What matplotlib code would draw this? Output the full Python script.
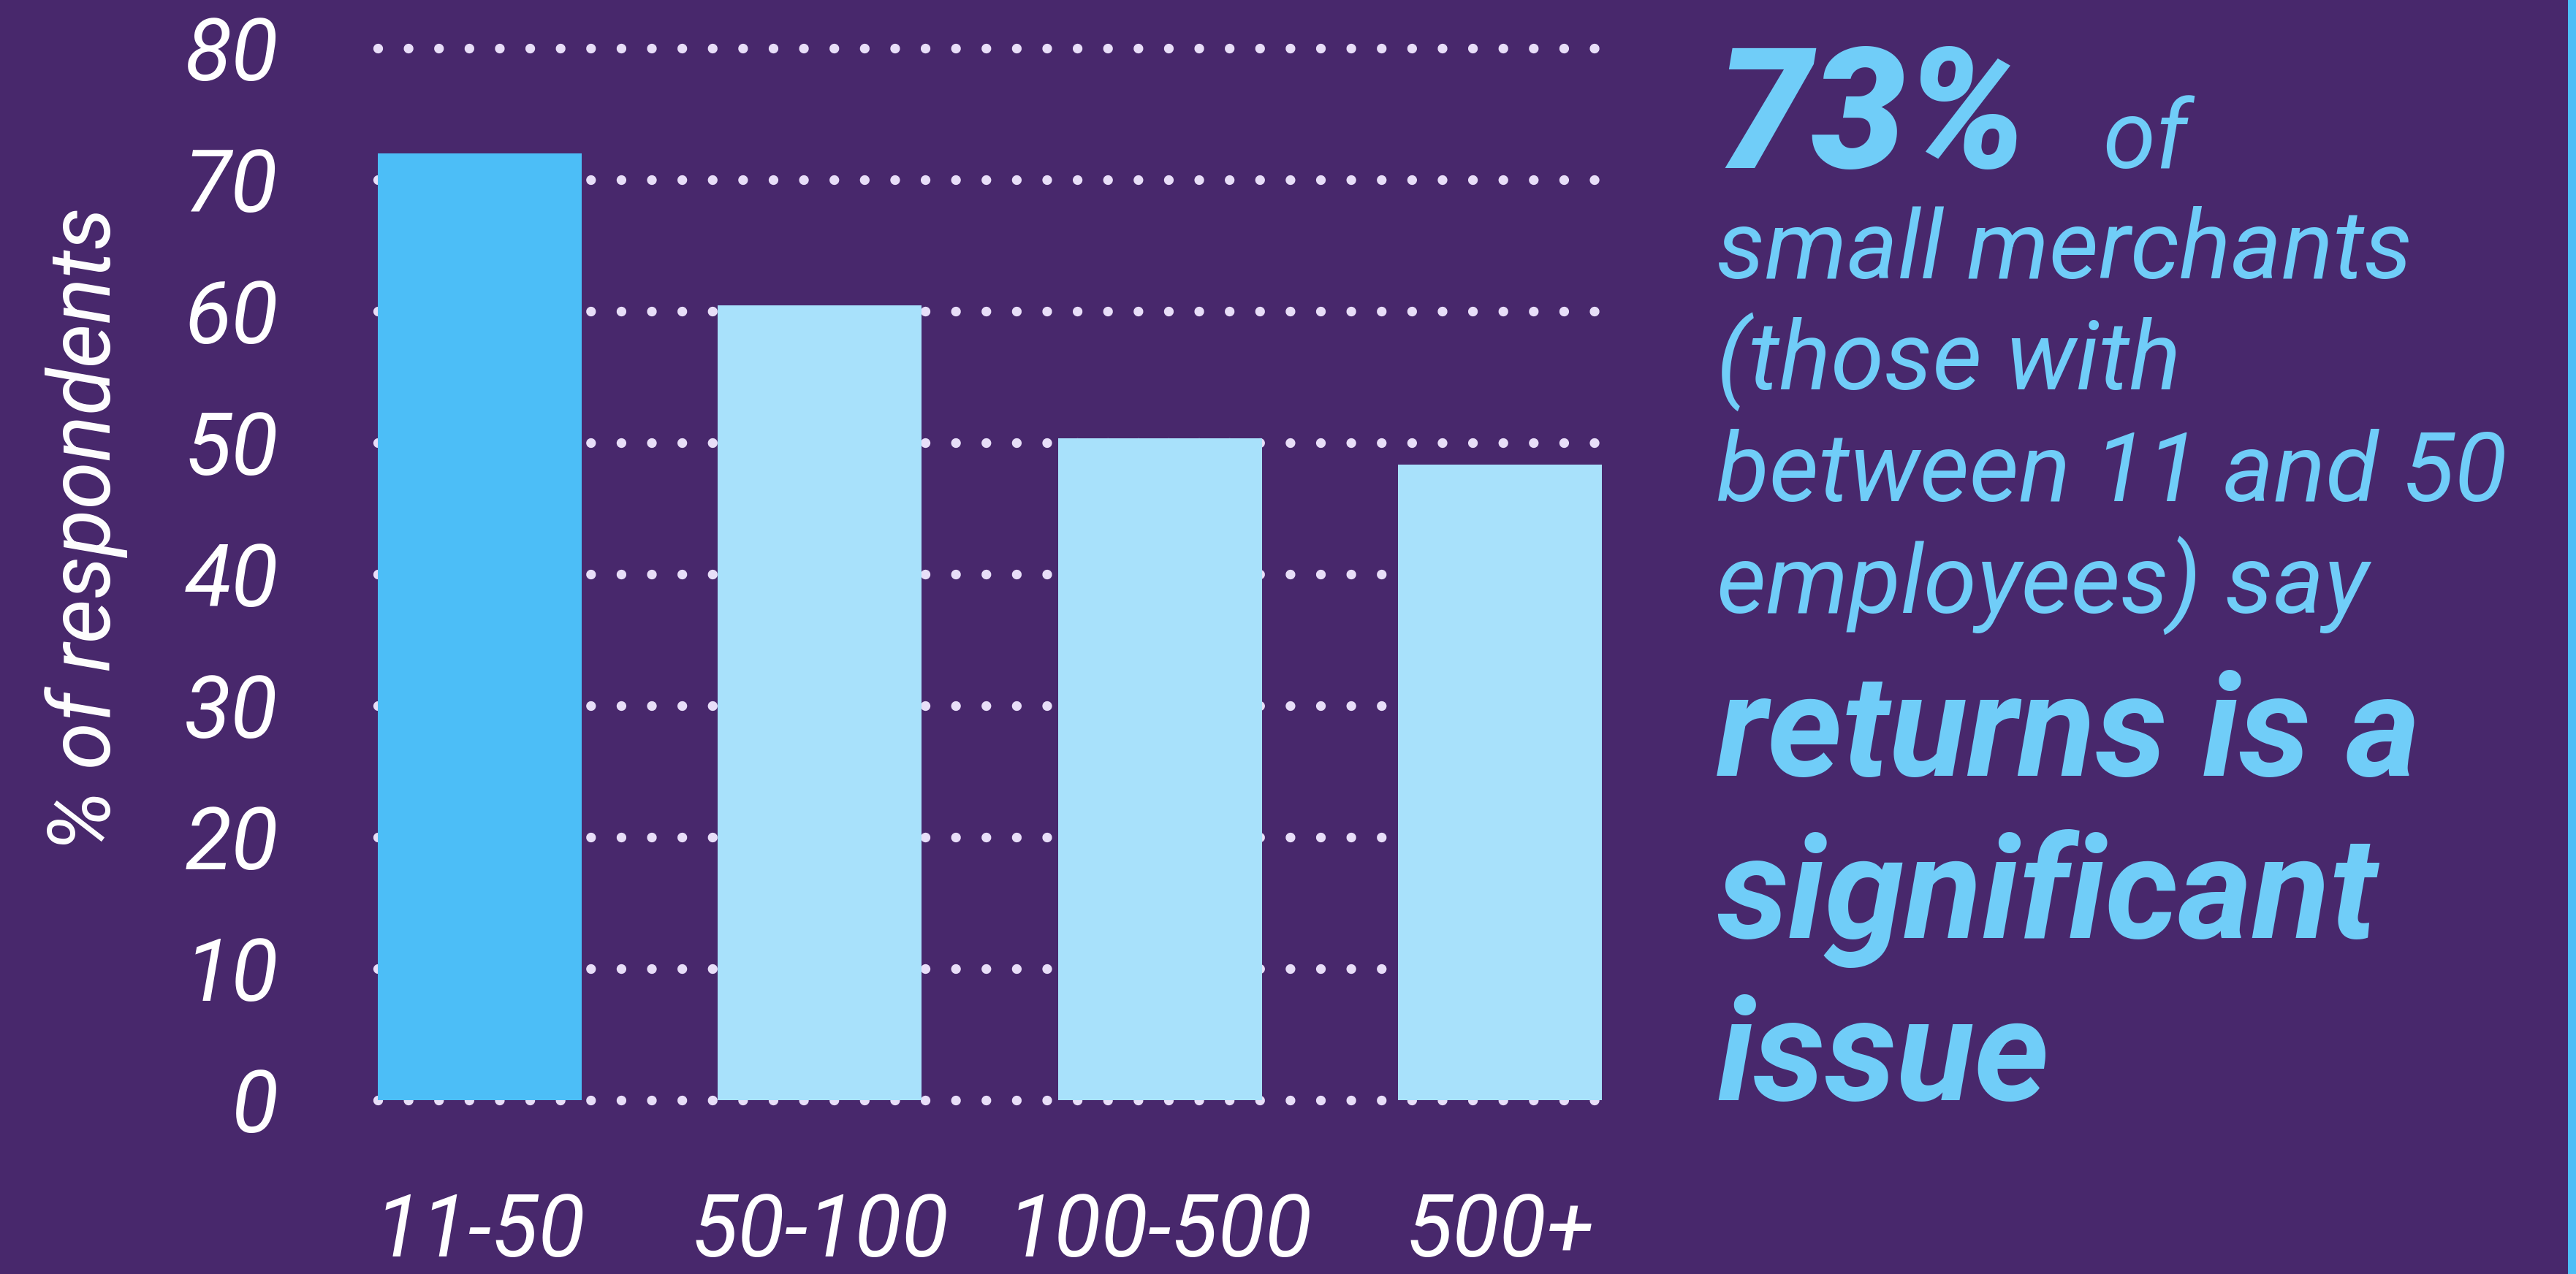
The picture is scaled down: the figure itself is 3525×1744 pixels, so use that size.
import matplotlib
matplotlib.use("Agg")
import matplotlib.pyplot as plt
from matplotlib.patches import Rectangle

# ---- data ----
categories = ["11-50", "50-100", "100-500", "500+"]
values = [72.0, 60.4, 50.3, 48.3]
yticks = [0, 10, 20, 30, 40, 50, 60, 70, 80]
ylabel = "% of respondents"

# ---- style ----
BG = "#48286C"
BAR_HI = "#4CBEF7"
BAR_LO = "#A8E1FB"
TXT = "#70CDF8"
DOT = "#E8DEF8"
FONT = ["Roboto", "DejaVu Sans"]

W, H = 3525, 1744
fig = plt.figure(figsize=(W / 100, H / 100), dpi=100, facecolor=BG)

ax = fig.add_axes([517 / W, 1 - 1505.7 / H, (2192 - 517) / W, (1505.7 - 65.7) / H])
ax.set_facecolor(BG)
colors = [BAR_HI] + [BAR_LO] * (len(values) - 1)
x = list(range(len(categories)))
ax.bar(x, values, width=0.6, color=colors, zorder=3)
ax.set_xlim(-0.3, len(categories) - 1 + 0.3)
ax.set_ylim(0, 80)
ax.set_yticks(yticks)
ax.set_yticklabels([str(t) for t in yticks], family=FONT, style="italic", fontsize=85, color="white")
ax.set_xticks(x)
ax.set_xticklabels(categories, family=FONT, style="italic", fontsize=85, color="white")
ax.tick_params(axis="y", length=0, pad=98)
ax.tick_params(axis="x", length=0, pad=90)
for s in ax.spines.values():
    s.set_visible(False)
for t in yticks:
    ax.axhline(t, color=DOT, linewidth=9.6, linestyle=(0, (0.001, 3.12)),
               dash_capstyle="round", zorder=1, clip_on=False)

fig.text(118 / W, 1 - 725 / H, ylabel, rotation=90, ha="center", va="center",
         family=FONT, style="italic", fontsize=85, color="white")

# ---- right-hand annotation ----
x0 = 2349 / W
def fy(px):
    return 1 - px / H

fig.text(x0, fy(230), "73%", family=FONT, style="italic", weight="black",
         fontsize=166, color=TXT, va="baseline", ha="left")
fig.text(2878 / W, fy(230), "of", family=FONT, style="italic",
         fontsize=94, color=TXT, va="baseline", ha="left")
small_lines = ["small merchants", "(those with", "between 11 and 50", "employees) say"]
small_base = [381, 533, 686, 839]
for t, b in zip(small_lines, small_base):
    fig.text(x0, fy(b), t, family=FONT, style="italic", fontsize=95,
             color=TXT, va="baseline", ha="left")
big_lines = ["returns is a", "significant", "issue"]
big_base = [1062, 1284, 1506.5]
for t, b in zip(big_lines, big_base):
    fig.text(x0, fy(b), t, family=FONT, style="italic", weight="bold",
             fontsize=141, color=TXT, va="baseline", ha="left")

# right edge stripe
fig.patches.append(Rectangle((3514 / W, 0), 11 / W, 1, transform=fig.transFigure,
                             facecolor=BAR_HI, edgecolor="none", figure=fig))

fig.savefig("out.png", dpi=100, facecolor=BG)
